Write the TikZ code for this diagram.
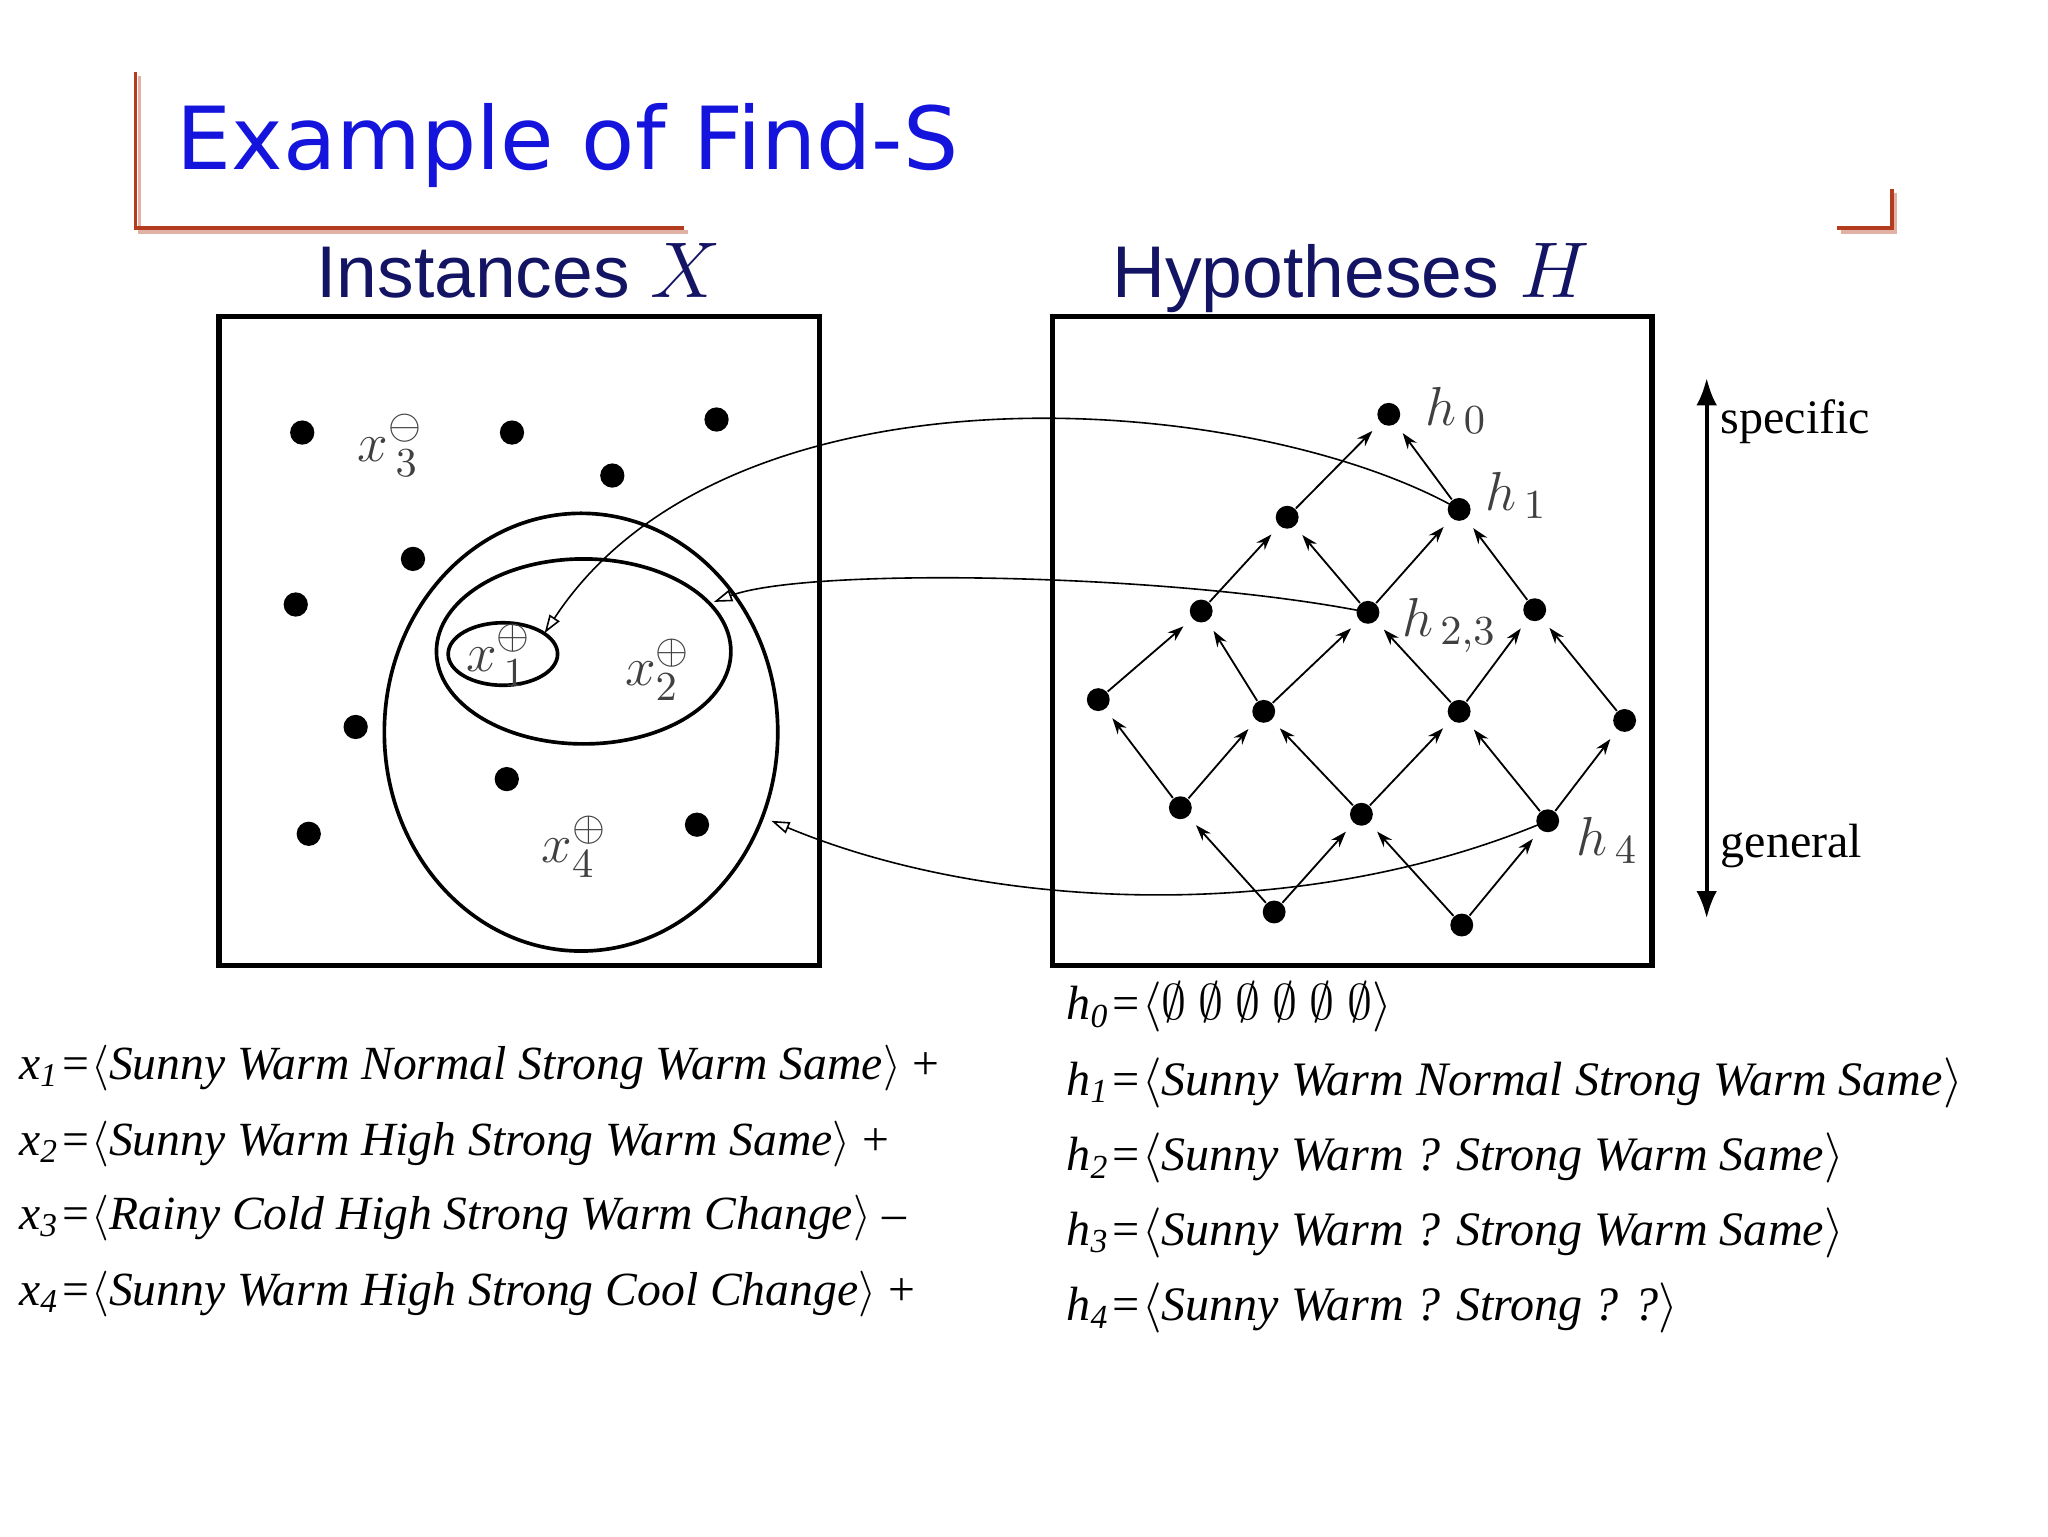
\documentclass[tikz,border=0pt]{standalone}
\usepackage{fontspec}
\setmainfont{Liberation Serif}
\setsansfont{Liberation Sans}
\newfontfamily\titlefont{DejaVu Sans}
\usetikzlibrary{arrows.meta}
\definecolor{titleblue}{RGB}{20,20,220}
\definecolor{navy}{RGB}{20,20,100}
\definecolor{bracket}{RGB}{180,60,30}
\tikzset{
  dot/.style={circle,fill=black,inner sep=0pt,minimum size=5.3pt},
  hdot/.style={circle,fill=black,inner sep=0pt,minimum size=5pt},
  edge/.style={-{Stealth[length=3.5pt,width=2.4pt]},line width=0.4pt,shorten >=2.4pt},
  link/.style={-{Triangle[open,length=4pt,width=2.6pt]},line width=0.35pt},
  lab/.style={font=\fontsize{13}{15}\selectfont\itshape,text=black!75},
  lst/.style={anchor=west,font=\fontsize{10.4}{13}\selectfont\itshape,inner sep=0},
  rlst/.style={lst,font=\fontsize{10.5}{13}\selectfont\itshape},
}
\begin{document}
\begin{tikzpicture}[x=0.1mm,y=-0.1mm]
\useasboundingbox (0,0) rectangle (1572,1179);
% title bracket
\draw[bracket!40,line width=0.8pt] (107,58) -- (107,178) -- (528,178);
\draw[bracket,line width=0.8pt] (104,55) -- (104,175) -- (525,175);
\draw[bracket!40,line width=0.8pt] (1413,178) -- (1455,178) -- (1455,148);
\draw[bracket,line width=0.8pt] (1410,175) -- (1452,175) -- (1452,145);
\node[anchor=base west,inner sep=0,text=titleblue,font=\titlefont\fontsize{19}{22}\selectfont] (title) at (135,130) {Example of Find-S};
\node[anchor=base,inner sep=0,text=navy,font=\sffamily\fontsize{16}{18}\selectfont] (inst) at (398,228) {Instances $X$};
\node[anchor=base,inner sep=0,text=navy,font=\sffamily\fontsize{16}{18}\selectfont] (hyp) at (1037,228) {Hypotheses $H$};
% boxes
\draw[line width=1.2pt] (168,243) rectangle (629,741);
\draw[line width=1.2pt] (808,243) rectangle (1268,741);
% instance dots
\foreach \p/\n in {{(232,332)}/d1,{(393,332)}/d2,{(550,322)}/d3,{(470,365)}/d4,{(317,429)}/d5,{(227,464)}/d6,{(273,558)}/d7,{(389,598)}/d8,{(237,640)}/d9,{(535,633)}/d10}
  \node[dot] (\n) at \p {};
% ellipses
\draw[line width=0.8pt] (446,562) ellipse [x radius=151,y radius=168];
\draw[line width=0.8pt] (448,500) ellipse [x radius=113,y radius=71];
\draw[line width=0.8pt] (386,502) ellipse [x radius=42,y radius=24];
\coordinate (e1) at (418,486);
\coordinate (e2) at (548,462);
\coordinate (e3) at (592,630);
\node[lab] (x3) at (300,342) {$x_{\,3}^{\ominus}$};
\node[lab] (x1) at (383,503) {$x_{\,1}^{\oplus}$};
\node[lab] (x2) at (505,514) {$x_{2}^{\oplus}$};
\node[lab] (x4) at (441,650) {$x_{4}^{\oplus}$};
% lattice
\node[hdot] (h0) at (1066,318) {};
\node[hdot] (a) at (988,397) {};
\node[hdot] (h1) at (1120,391) {};
\node[hdot] (b) at (922,469) {};
\node[hdot] (h23) at (1050,470) {};
\node[hdot] (c) at (1178,468) {};
\node[hdot] (d) at (843,537) {};
\node[hdot] (e) at (970,546) {};
\node[hdot] (f) at (1120,546) {};
\node[hdot] (g) at (1247,553) {};
\node[hdot] (i) at (906,620) {};
\node[hdot] (j) at (1045,625) {};
\node[hdot] (h4) at (1188,630) {};
\node[hdot] (k) at (978,700) {};
\node[hdot] (l) at (1122,710) {};
\foreach \s/\t in {a/h0,h1/h0,b/a,h23/a,h23/h1,c/h1,d/b,e/b,e/h23,f/h23,f/c,g/c,i/d,i/e,j/e,j/f,h4/f,h4/g,k/i,k/j,l/j,l/h4}
  \draw[edge] (\s) -- (\t);
\node[lab,anchor=west] (lh0) at (1082,315) {$h_{\,0}$};
\node[lab,anchor=west] (lh1) at (1128,380) {$h_{\,1}$};
\node[lab,anchor=west] (lh23) at (1064,480) {$h_{\,2,3}$};
\node[lab,anchor=west] (lh4) at (1198,645) {$h_{\,4}$};
% links
\draw[link] (h1.center) .. controls (960,300) and (560,270) .. (e1);
\draw[link] (h23.center) .. controls (900,440) and (620,435) .. (e2);
\draw[link] (h4.center) .. controls (1000,710) and (760,700) .. (e3);
% specific/general
\coordinate (sa) at (1310,290);
\coordinate (sb) at (1310,705);
\draw[{Latex[length=6pt,width=4.5pt]}-{Latex[length=6pt,width=4.5pt]},line width=0.9pt] (sa) -- (sb);
\node[anchor=base west,inner sep=0,font=\fontsize{10.5}{12}\selectfont] (spec) at (1320,333) {specific};
\node[anchor=base west,inner sep=0,font=\fontsize{10.5}{12}\selectfont] (gen) at (1320,658) {general};
% lists
\node[lst] (lx1) at (14,820) {x\textsubscript{1}=$\langle$Sunny Warm Normal Strong Warm Same$\rangle$ \upshape +};
\node[lst] (lx2) at (14,878) {x\textsubscript{2}=$\langle$Sunny Warm High Strong Warm Same$\rangle$ \upshape +};
\node[lst] (lx3) at (14,935) {x\textsubscript{3}=$\langle$Rainy Cold High Strong Warm Change$\rangle$ \upshape –};
\node[lst] (lx4) at (14,993) {x\textsubscript{4}=$\langle$Sunny Warm High Strong Cool Change$\rangle$ \upshape +};
\node[rlst] (lh0t) at (818,773) {h\textsubscript{0}=$\langle\emptyset\ \emptyset\ \emptyset\ \emptyset\ \emptyset\ \emptyset\rangle$};
\node[rlst] (lh1t) at (818,831) {h\textsubscript{1}=$\langle$Sunny Warm Normal Strong Warm Same$\rangle$};
\node[rlst] (lh2t) at (818,889) {h\textsubscript{2}=$\langle$Sunny Warm ? Strong Warm Same$\rangle$};
\node[rlst] (lh3t) at (818,946) {h\textsubscript{3}=$\langle$Sunny Warm ? Strong Warm Same$\rangle$};
\node[rlst] (lh4t) at (818,1004) {h\textsubscript{4}=$\langle$Sunny Warm ? Strong ? ?$\rangle$};
\end{tikzpicture}
\end{document}
